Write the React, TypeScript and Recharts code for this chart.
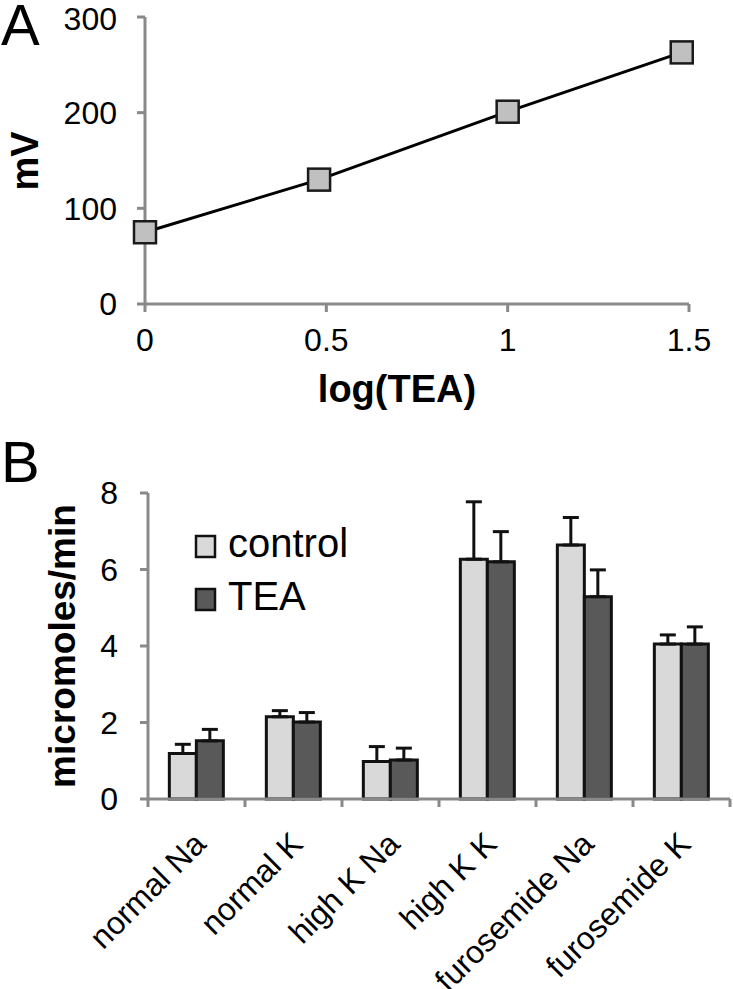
import React from 'react';
import {
  LineChart, Line, XAxis, YAxis, BarChart, Bar, ErrorBar, Legend, Label,
} from 'recharts';

// ---------- Panel A data ----------
const logTEA = [0, 0.48, 1, 1.48];
const mV = [75, 130, 201, 263];
const aXTicks = [0, 0.5, 1, 1.5];
const aYTicks = [0, 100, 200, 300];

// ---------- Panel B data ----------
const categories = ['normal Na', 'normal K', 'high K Na', 'high K K', 'furosemide Na', 'furosemide K'];
const controlVals = [1.19, 2.15, 0.98, 6.27, 6.64, 4.05];
const controlErr = [0.24, 0.16, 0.39, 1.5, 0.72, 0.24];
const teaVals = [1.52, 2.01, 1.02, 6.2, 5.29, 4.05];
const teaErr = [0.3, 0.25, 0.31, 0.79, 0.7, 0.45];
const bYTicks = [0, 2, 4, 6, 8];
const seriesNames = ['control', 'TEA'];

const lineData = logTEA.map((x, i) => ({ x, y: mV[i] }));
const barData = categories.map((c, i) => ({
  name: c,
  control: controlVals[i],
  controlE: [0, controlErr[i]],
  tea: teaVals[i],
  teaE: [0, teaErr[i]],
}));

const FONT = '"Liberation Sans", Arial, Helvetica, sans-serif';
const AXIS = '#898989';
const CTRL_FILL = '#d9d9d9';
const TEA_FILL = '#595959';

const SquareDot = (props: any) => {
  const { cx, cy } = props;
  if (cx == null || cy == null) return null;
  const s = 22;
  return (
    <rect x={cx - s / 2} y={cy - s / 2} width={s} height={s}
      fill="#c0c0c0" stroke="#1a1a1a" strokeWidth={2.5} />
  );
};

const B_WIDTH = 733;
const B_LEFT = 148;
const B_RIGHT = 3;
const HALF_BAND = (B_WIDTH - B_LEFT - B_RIGHT) / categories.length / 2;

const CatTick = (props: any) => {
  const { x, y, payload, index } = props;
  const ay = y - 8;
  const px = x + 11;
  const py = y + 39;
  return (
    <g>
      <line x1={x - HALF_BAND} y1={ay} x2={x - HALF_BAND} y2={ay + 8} stroke={AXIS} strokeWidth={3} />
      {index === categories.length - 1 && (
        <line x1={x + HALF_BAND} y1={ay} x2={x + HALF_BAND} y2={ay + 8} stroke={AXIS} strokeWidth={3} />
      )}
      <text x={px} y={py} transform={`rotate(-45, ${px}, ${py})`} textAnchor="end"
        fontSize={32} fontFamily={FONT} fill="#000">{payload.value}</text>
    </g>
  );
};

const LegendBox = () => (
  <svg width={200} height={120} style={{ overflow: 'visible' }}>
    {seriesNames.map((n, i) => (
      <g key={n}>
        <rect x={6} y={6 + i * 53} width={19} height={21}
          fill={i === 0 ? CTRL_FILL : TEA_FILL} stroke="#111" strokeWidth={2.5} />
        <text x={38} y={27 + i * 53} fontSize={40} fontFamily={FONT} fill="#000">{n}</text>
      </g>
    ))}
  </svg>
);

export default function App() {
  return (
    <div style={{ position: 'absolute', left: 0, top: 0, width: 733, height: 989, background: '#fff', fontFamily: FONT }}>
      <svg width={733} height={989} style={{ position: 'absolute', left: 0, top: 0 }}>
        <text x={1} y={45} fontSize={58} fontFamily={FONT} fill="#000">A</text>
        <text x={1} y={482} fontSize={58} fontFamily={FONT} fill="#000">B</text>
      </svg>

      <div style={{ position: 'absolute', left: 0, top: 0 }}>
        <LineChart width={733} height={420} data={lineData}
          margin={{ top: 17, right: 44, bottom: 0, left: 0 }}>
          <XAxis dataKey="x" type="number" domain={[0, 1.5]} ticks={aXTicks}
            height={116} stroke={AXIS} strokeWidth={3}
            tickSize={8} tickMargin={16}
            tickLine={{ stroke: AXIS, strokeWidth: 3 }}
            tick={{ fill: '#000', fontSize: 32, fontFamily: FONT }}>
            <Label content={() => (
              <text x={397} y={402} textAnchor="middle" fontSize={38} fontWeight="bold"
                fontFamily={FONT} fill="#000">log(TEA)</text>
            )} />
          </XAxis>
          <YAxis type="number" domain={[0, 300]} ticks={aYTicks} width={145}
            stroke={AXIS} strokeWidth={3} tickSize={8} tickMargin={20}
            tickLine={{ stroke: AXIS, strokeWidth: 3 }}
            tick={{ fill: '#000', fontSize: 32, fontFamily: FONT }}>
            <Label content={() => (
              <text x={38} y={161} textAnchor="middle" fontSize={38} fontWeight="bold"
                fontFamily={FONT} fill="#000" transform="rotate(-90, 38, 161)">mV</text>
            )} />
          </YAxis>
          <Line dataKey="y" stroke="#000" strokeWidth={3} isAnimationActive={false}
            dot={<SquareDot />} activeDot={false} />
        </LineChart>
      </div>

      <div style={{ position: 'absolute', left: 0, top: 430 }}>
        <BarChart width={B_WIDTH} height={559} data={barData}
          margin={{ top: 63, right: B_RIGHT, bottom: 0, left: 0 }}
          barCategoryGap="22%" barGap={0}>
          <XAxis dataKey="name" height={190} stroke={AXIS} strokeWidth={3}
            tickLine={false} tickSize={8} tickMargin={0} interval={0}
            tick={<CatTick />} />
          <YAxis type="number" domain={[0, 8]} ticks={bYTicks} width={148}
            stroke={AXIS} strokeWidth={3} tickSize={8} tickMargin={22}
            tickLine={{ stroke: AXIS, strokeWidth: 3 }}
            tick={{ fill: '#000', fontSize: 32, fontFamily: FONT }}>
            <Label content={() => (
              <text x={75} y={216} textAnchor="middle" fontSize={37} fontWeight="bold"
                fontFamily={FONT} fill="#000" transform="rotate(-90, 75, 216)">micromoles/min</text>
            )} />
          </YAxis>
          <Legend layout="horizontal" verticalAlign="middle" align="center"
            wrapperStyle={{ position: 'absolute', left: 190, top: 100, width: 200, height: 120 }}
            content={() => <LegendBox />} />
          <Bar dataKey="control" name="control" fill={CTRL_FILL} stroke="#111" strokeWidth={3}
            isAnimationActive={false}>
            <ErrorBar dataKey="controlE" direction="y" stroke="#111" strokeWidth={3} width={8} />
          </Bar>
          <Bar dataKey="tea" name="TEA" fill={TEA_FILL} stroke="#111" strokeWidth={3}
            isAnimationActive={false}>
            <ErrorBar dataKey="teaE" direction="y" stroke="#111" strokeWidth={3} width={8} />
          </Bar>
        </BarChart>
      </div>
    </div>
  );
}
